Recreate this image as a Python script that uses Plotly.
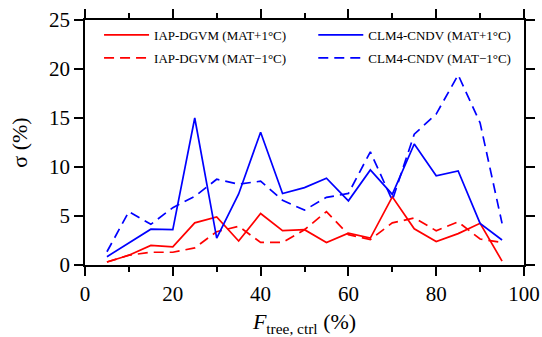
import plotly.graph_objects as go

ftree = [5, 10, 15, 20, 25, 30, 35, 40, 45, 50, 55, 60, 65, 70, 75, 80, 85, 90, 95]
iap_plus = [0.3, 1.0, 2.0, 1.85, 4.3, 4.9, 2.45, 5.25, 3.5, 3.6, 2.3, 3.25, 2.75, 6.95, 3.7, 2.4, 3.2, 4.25, 0.4]
iap_minus = [0.3, 1.0, 1.3, 1.3, 1.75, 3.4, 3.95, 2.3, 2.3, 3.6, 5.45, 3.1, 2.6, 4.3, 4.8, 3.5, 4.4, 2.65, 2.3]
clm_plus = [0.85, 2.25, 3.65, 3.6, 15.0, 2.75, 7.25, 13.55, 7.3, 7.9, 8.85, 6.55, 9.7, 7.2, 12.35, 9.1, 9.6, 4.25, 2.55]
clm_minus = [1.35, 5.45, 4.15, 5.85, 7.0, 8.75, 8.25, 8.55, 6.6, 5.6, 6.9, 7.3, 11.55, 6.6, 13.35, 15.4, 19.4, 14.5, 4.25]

names = ["IAP-DGVM (MAT+1°C)", "CLM4-CNDV (MAT+1°C)",
         "IAP-DGVM (MAT−1°C)", "CLM4-CNDV (MAT−1°C)"]

fig = go.Figure()
series = [(iap_plus, "#ff0000", "solid", names[0], "legend", "g1"),
          (iap_minus, "#ff0000", "10px,6px", names[2], "legend", "g2"),
          (clm_plus, "#0000ff", "solid", names[1], "legend2", "g3"),
          (clm_minus, "#0000ff", "10px,6px", names[3], "legend2", "g4")]
for ys, col, dash, nm, lg, grp in series:
    fig.add_trace(go.Scatter(x=ftree, y=ys, mode="lines", name=nm, legend=lg,
                             legendgroup=grp,
                             line=dict(color=col, width=1.7, dash=dash)))

font = "Liberation Serif"
axis_common = dict(showgrid=False, zeroline=False, showline=True, linecolor="black",
                   linewidth=1.5, mirror="ticks", ticks="outside", tickcolor="black",
                   tickwidth=1.5, ticklen=9, automargin=False,
                   tickfont=dict(family=font, size=21, color="black"))

fig.update_xaxes(range=[0, 100], tickmode="array", tickvals=[0, 20, 40, 60, 80, 100],
                 minor=dict(tickvals=[10, 30, 50, 70, 90], ticklen=5, tickwidth=1.5,
                            tickcolor="black", ticks="outside"),
                 title=dict(text="<i>F</i><sub>tree, ctrl</sub> (%)",
                            font=dict(family=font, size=22, color="black")),
                 **axis_common)
fig.update_yaxes(range=[0, 25], tickmode="array", tickvals=[0, 5, 10, 15, 20, 25],
                 title=dict(text="σ (%)", font=dict(family=font, size=22, color="black")),
                 **axis_common)

leg_common = dict(orientation="v", yanchor="top", xanchor="left",
                  font=dict(family=font, size=13, color="black"),
                  bgcolor="rgba(0,0,0,0)", tracegroupgap=3, itemwidth=45)
fig.update_layout(
    width=542, height=337,
    margin=dict(l=85, r=18, t=20, b=72),
    paper_bgcolor="white", plot_bgcolor="white",
    showlegend=True,
    legend=dict(x=0.032, y=1.0, **leg_common),
    legend2=dict(x=0.52, y=1.0, **leg_common),
)

fig.write_html("out.html")
